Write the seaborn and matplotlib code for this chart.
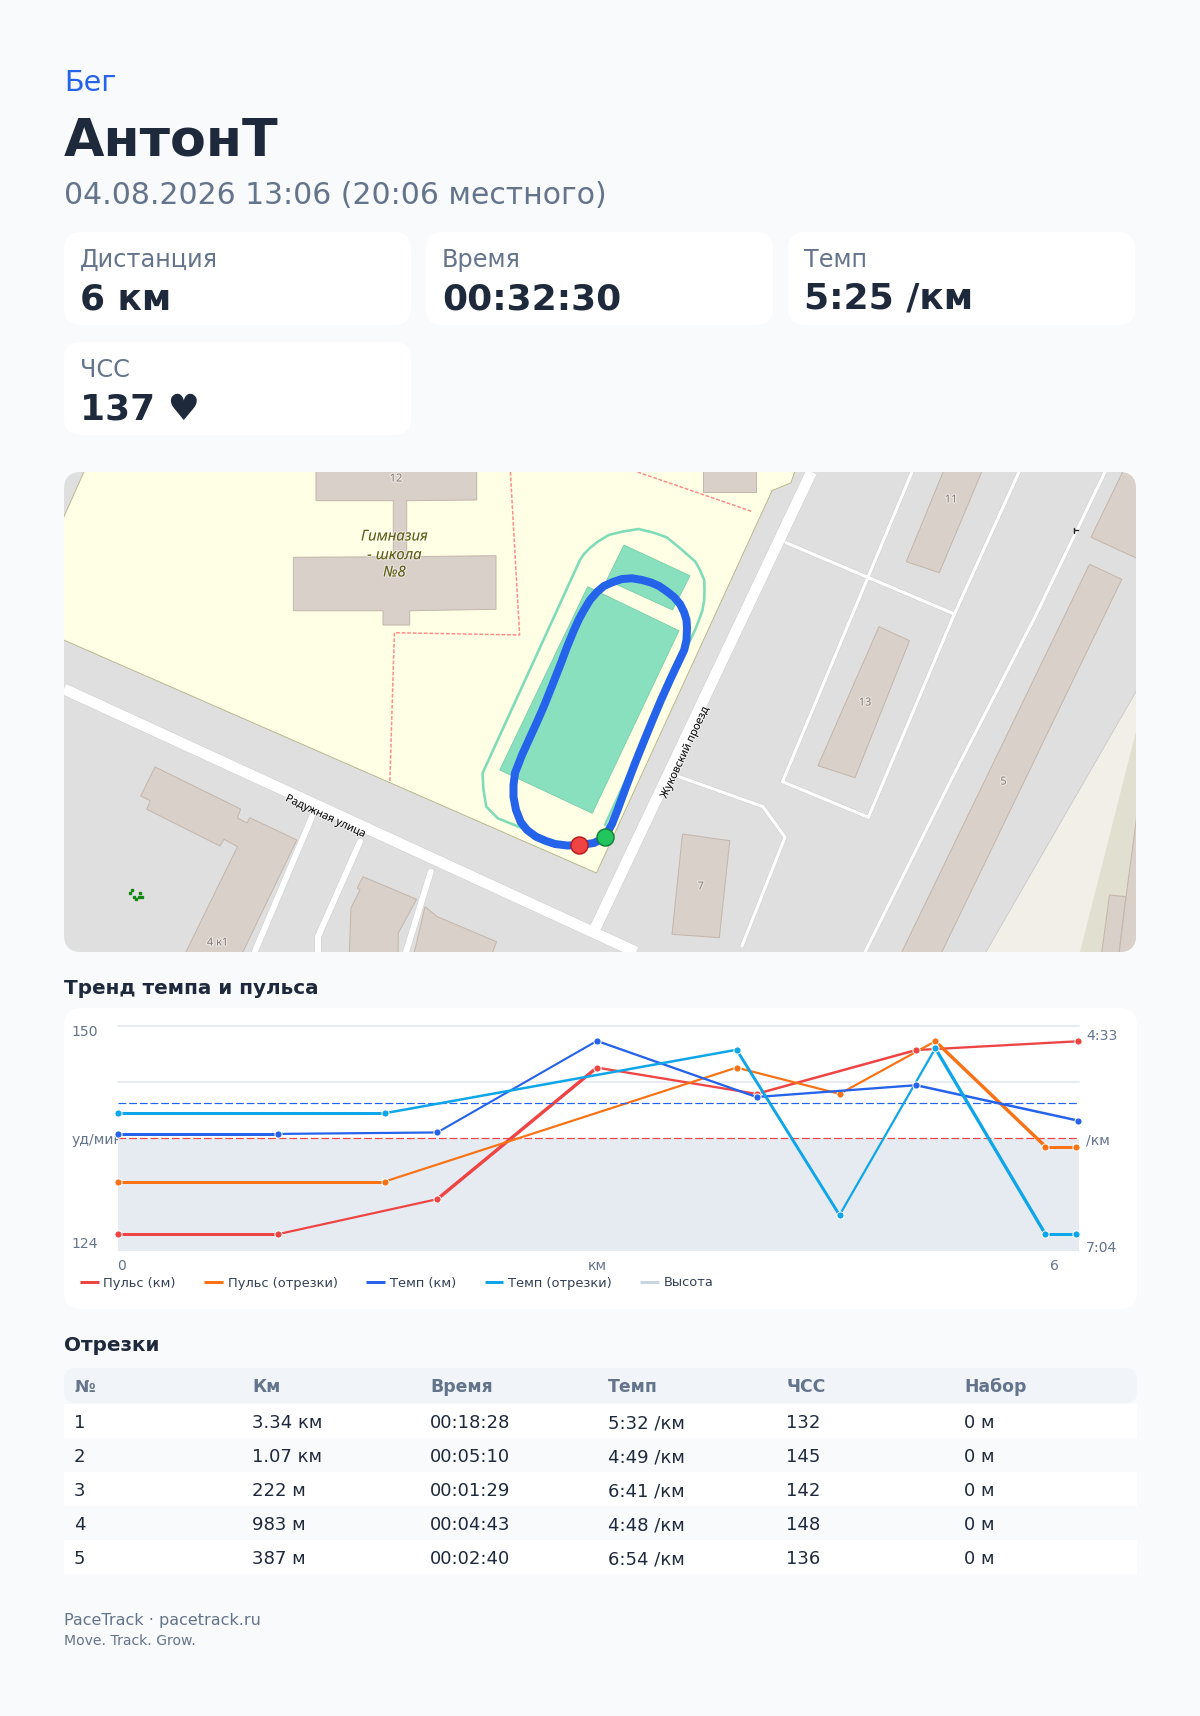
"""Карточка пробежки PaceTrack: шапка, плитки, карта, тренд темпа и пульса, отрезки."""
import matplotlib
matplotlib.use('Agg')
import matplotlib.pyplot as plt
import matplotlib.patheffects as pe
from matplotlib.patches import FancyBboxPatch, Polygon
import seaborn as sns

W, H = 1200, 1716
BG = '#f8fafc'
INK = '#1e293b'
MUTED = '#64748b'
BLUE = '#2563eb'
RED = '#ef4444'
ORANGE = '#f97316'
CYAN = '#0ea5e9'
ELEV = '#cbd5e1'

# --- данные графика ---
KM_DIST = [0, 1, 2, 3, 4, 5, 6.015]
KM_PULSE = [126, 126, 130, 145, 142, 147, 148]
KM_PACE = [346, 346, 345, 283, 321, 313, 337]       # сек/км
SPLIT_DIST = [0, 1.67, 3.875, 4.52, 5.12, 5.81, 6.0]
SPLIT_PULSE = [132, 132, 145, 142, 148, 136, 136]
SPLIT_PACE = [332, 332, 289, 401, 288, 414, 414]
ELEV_DIST = [0, 6.02]
ELEV_M = [0, 0]
AVG_PULSE = 137
AVG_PACE = 325

# толщина каждого участка линии, px
KM_PULSE_LW = [3, 2.2, 3.4, 2.3, 2.5, 2.3]
KM_PACE_LW = [3, 2.2, 2.1, 2.3, 2.3, 2.5]
SPLIT_PULSE_LW = [3, 2.2, 2.2, 2.2, 3.4, 3]
SPLIT_PACE_LW = [3, 2.5, 2.9, 2.2, 3.3, 3]

# --- таблица и плитки ---
TABLE_HEAD = ['№', 'Км', 'Время', 'Темп', 'ЧСС', 'Набор']
TABLE_NUM = ['1', '2', '3', '4', '5']
TABLE_KM = ['3.34 км', '1.07 км', '222 м', '983 м', '387 м']
TABLE_TIME = ['00:18:28', '00:05:10', '00:01:29', '00:04:43', '00:02:40']
TABLE_PACE = ['5:32 /км', '4:49 /км', '6:41 /км', '4:48 /км', '6:54 /км']
TABLE_HR = ['132', '145', '142', '148', '136']
TABLE_GAIN = ['0 м', '0 м', '0 м', '0 м', '0 м']
TILE_LABELS = ['Дистанция', 'Время', 'Темп', 'ЧСС']
TILE_VALUES = ['6 км', '00:32:30', '5:25 /км', '137 ♥']

# --- карта, координаты в пикселях картинки; края заходят за рамку, чтобы не было видно контура ---
SCHOOL = [(87, 465), (50, 548), (50, 634), (596.5, 873), (772, 490.7), (791, 482.7), (797, 465)]
BEIGE = [(1145, 676), (986, 952), (975, 965), (1145, 965)]
DARK_BEIGE = [(1145, 696), (1080, 952), (1077, 965), (1145, 965)]
BUILDINGS = [
    [(316, 465), (476.7, 465), (476.7, 500), (406.7, 500.7), (406.7, 556.7), (496, 555.7),
     (496, 609.3), (409.7, 610.7), (409.7, 625), (383, 625), (383, 610.7), (293.4, 610.7),
     (293.4, 557.3), (393.3, 556.7), (393.3, 500.7), (316, 500.7)],
    [(702.5, 465), (755.8, 465), (755.8, 491.7), (702.5, 491.7)],
    [(155, 767), (240.6, 809), (237.5, 818), (247, 823), (249.8, 817.7), (296.8, 840),
     (238, 962), (181, 962), (237.5, 846.7), (224, 839.3), (220, 846), (146.8, 809.3),
     (150.3, 800.7), (140.7, 796)],
    [(363, 876.7), (416.6, 899.3), (398.3, 933), (398, 962), (349, 962), (351, 908),
     (360, 890), (357.3, 888)],
    [(425, 906.7), (437.3, 916.7), (496.6, 941.7), (489, 962), (412, 962)],
    [(946, 465), (984.6, 465), (939.3, 572.7), (906.3, 561.7)],
    [(879, 626.7), (909.5, 640.7), (855, 777.7), (818, 765.7)],
    [(1089.5, 564.3), (1121.8, 579.3), (937, 962), (897, 962)],
    [(1126, 465), (1145, 465), (1145, 562), (1091, 537.3)],
    [(682.5, 834), (729.8, 840.7), (719.3, 937.7), (672, 934.3)],
    [(1109.5, 895), (1126, 896.7), (1118, 962), (1100.5, 962)],
    [(1145, 755), (1126, 896.7), (1118, 962), (1145, 962)],
]
PITCHES = [
    [(587.7, 586.7), (679, 630.7), (592.3, 813.3), (499.7, 770)],
    [(623.9, 545), (690, 575.7), (672.6, 610), (606.8, 580)],
]
PITCH_OUTLINE = [(605, 825), (689.5, 641.7), (695, 630), (699, 620), (702.5, 610), (704.2, 600), (704.5, 590),
                 (704.2, 580), (700, 570), (695.4, 561.7), (681, 549), (666.7, 537.3), (653, 532.5),
                 (638.6, 529), (623, 531.5), (608.7, 535), (598, 541.5), (589.6, 548.3), (584, 554), (580, 560),
                 (482.5, 773.3), (483.5, 790), (486.3, 806.7), (497.8, 818.3), (522.6, 828.3)]
BOUNDARIES = [
    [(510.4, 472), (519.6, 635), (394.4, 632.7), (389.8, 782.7)],
    [(637.5, 472), (752.6, 511.7)],
]
MAJOR_ROADS = [
    [(64, 689), (636, 952)],
    [(811.5, 472), (593, 933)],
]
LANES = [
    ([(312, 816.7), (254.7, 952)], 6),
    ([(360, 841.7), (318, 936.7), (318, 952)], 6),
    ([(430.8, 871.7), (406, 952)], 6),
    ([(912, 472), (782.5, 781.7), (868.4, 817.3), (954.4, 614), (1019, 472)], 3.2),
    ([(786, 542.7), (954.4, 614)], 3.2),
    ([(1105, 472), (1035, 617), (951, 780), (865, 952)], 3.2),
    ([(679, 776.7), (763, 806.7), (785, 837.3), (742, 946)], 3.2),
]
TRACK = [(604.7, 837.3), (612, 824), (617.5, 810), (626, 787), (635, 763.3), (644, 741), (652.6, 720),
         (661, 700), (670, 680), (678, 663), (684.2, 650), (686.5, 640), (687, 628), (686.5, 620),
         (684, 612), (680, 604), (674, 597), (667, 591.5), (659, 586), (651, 582.5), (642, 580),
         (632, 578.3), (622, 579), (613, 582), (604, 586), (597, 592), (590, 600), (584, 610),
         (579, 619), (574, 630), (567, 647), (560.9, 663.3), (552, 686), (543.7, 706.7), (537, 722),
         (530.3, 736.7), (522, 755), (515, 773), (513.5, 785), (513.5, 797), (516, 810), (520.7, 822),
         (527, 830), (536, 836.7), (546, 841), (555, 844), (567, 845.5), (578.5, 845.3), (594, 843),
         (604.7, 837.3)]
HOUSE_NUMBERS = [('12', 396, 479), ('4 к1', 217.6, 943), ('11', 951, 500), ('13', 865, 703),
                 ('5', 1003.5, 782), ('7', 700.7, 887)]


def pt(px):
    return px * 0.72


def rounded(ax, x0, y0, x1, y1, r, color, **kw):
    patch = FancyBboxPatch((x0 + r, y0 + r), x1 - x0 - 2 * r, y1 - y0 - 2 * r,
                           boxstyle=f'round,pad={r},rounding_size={r}',
                           fc=color, ec='none', **kw)
    ax.add_patch(patch)
    return patch


def label(ax, x, y, s, size, color=INK, weight='normal', **kw):
    return ax.text(x, y, s, fontsize=pt(size), color=color, fontweight=weight, va='baseline', **kw)


sns.set_theme(style='white')
plt.rcParams['font.family'] = ['DejaVu Sans']

fig = plt.figure(figsize=(W / 100, H / 100), dpi=100, facecolor=BG)
page = fig.add_axes([0, 0, 1, 1])
page.set_xlim(0, W)
page.set_ylim(H, 0)
page.axis('off')

# шапка
label(page, 64, 91, 'Бег', 28.6, BLUE)
label(page, 64, 156, 'АнтонТ', 52.3, INK, 'bold')
label(page, 64, 204, '04.08.2026 13:06 (20:06 местного)', 29.9, MUTED)

# плитки
tile_boxes = [(64, 232, 411, 325), (426, 232, 773, 325), (788, 232, 1135, 325), (64, 342, 411, 435)]
for (x0, y0, x1, y1), name, value in zip(tile_boxes, TILE_LABELS, TILE_VALUES):
    rounded(page, x0, y0, x1, y1, 17, 'white')
    label(page, x0 + 16, y0 + 35, name, 24, MUTED)
    label(page, x0 + 16, y0 + 77, value, 36, INK, 'bold')

# карта
clip = rounded(page, 64, 472, 1136, 952, 17, '#dfdfdf')


def map_poly(pts, fc, ec='none', lw=0.0):
    p = Polygon(pts, closed=True, fc=fc, ec=ec, lw=pt(lw))
    page.add_patch(p)
    p.set_clip_path(clip)
    return p


def map_line(pts, color, width, **kw):
    xs, ys = zip(*pts)
    ln, = page.plot(xs, ys, color=color, lw=pt(width), **kw)
    ln.set_clip_path(clip)
    return ln


map_poly(BEIGE, '#f2efe9', '#c8c8c8', 0.8)
map_poly(DARK_BEIGE, '#e0dfd0')
map_poly(SCHOOL, '#ffffe5', '#b5b58a', 0.9)
for b in BOUNDARIES:
    map_line(b, '#ff8a8a', 1.5, ls=(0, (2.5, 1.2)))
for lane, width in LANES:
    map_line(lane, '#cfcfcf', width + 1, solid_joinstyle='miter')
for road in MAJOR_ROADS:
    map_line(road, '#cfcfcf', 12, solid_capstyle='butt')
for lane, width in LANES:
    map_line(lane, 'white', width, solid_joinstyle='miter')
for road in MAJOR_ROADS:
    map_line(road, 'white', 11, solid_capstyle='butt')
for b in BUILDINGS:
    map_poly(b, '#d9d0c9', '#c4b6ab', 1)
for p in PITCHES:
    map_poly(p, '#88e0be', '#74cfa8', 0.8)
map_line(PITCH_OUTLINE, '#7fdcb8', 2.6, solid_joinstyle='round')
map_line(TRACK, BLUE, 8, solid_joinstyle='round')

page.plot([578.5], [845.3], 'o', ms=pt(17), mfc=RED, mec='#b91c1c', mew=pt(1.5))
page.plot([604.7], [837.3], 'o', ms=pt(17), mfc='#22c55e', mec='#15803d', mew=pt(1.5))

halo = [pe.withStroke(linewidth=1.6, foreground='white', alpha=0.5)]
for text, x, y in HOUSE_NUMBERS:
    page.text(x, y, text, fontsize=pt(11), color='#8a7f7a', ha='center', va='center',
              family='Noto Sans', path_effects=halo)
for text, y in [('Гимназия', 537), ('- школа', 555.7), ('№8', 573)]:
    page.text(394.4, y, text, fontsize=pt(15), color='#5c5c12', style='italic', ha='center',
              va='center', family='Noto Sans', path_effects=halo)
page.text(325.5, 816.7, 'Радужная улица', fontsize=pt(11), color='#111111', rotation=-25,
          rotation_mode='anchor', ha='center', va='center', family='Noto Sans', path_effects=halo)
page.text(685, 753, 'Жуковский проезд', fontsize=pt(11), color='#111111', rotation=64.8,
          rotation_mode='anchor', ha='center', va='center', family='Noto Sans', path_effects=halo)
page.plot([132.3, 140, 136, 130, 134, 139, 142], [890, 892.7, 899.3, 893, 897, 897, 897],
          's', ms=2, color='#118811')
page.plot([1073.7, 1073.7], [528, 533], color='#222222', lw=pt(1.4))
page.plot([1073.7, 1078], [530, 530], color='#222222', lw=pt(1.4))

# тренд
label(page, 64, 994, 'Тренд темпа и пульса', 20, INK, 'bold')
rounded(page, 64, 1008, 1137, 1309, 17, 'white')

x0, x1, y0, y1 = 118, 1079, 1026, 1251
ax = fig.add_axes([x0 / W, 1 - y1 / H, (x1 - x0) / W, (y1 - y0) / H], facecolor='none')
ax.fill_between(ELEV_DIST, ELEV_M, -1, color='#e6ebf2', lw=0, zorder=1)
ax.plot([], [], color=ELEV, lw=pt(3), label='Высота')
ax.set_xlim(0, 6.02)
ax.set_ylim(-1, 1)
ax.set_yticks([0.5, 1.0])
ax.set_xticks([])
ax.grid(axis='y', color='#e2e8f0', lw=pt(1.6), zorder=0)
for gl in ax.get_ygridlines():
    gl.set_clip_on(False)

ax_pulse = ax.twinx()
ax_pace = ax.twinx()
ax_pulse.set_ylim(124.09, 149.74)
ax_pace.set_ylim(425.3, 272.9)
for a in (ax, ax_pulse, ax_pace):
    a.patch.set_alpha(0)
    a.set_yticklabels([])
    a.set_xlabel('')
    a.set_ylabel('')
    a.tick_params(length=0)
    sns.despine(ax=a, left=True, right=True, top=True, bottom=True)

ax_pulse.axhline(AVG_PULSE, color=RED, lw=pt(1.2), dashes=(6.5, 2.4))
ax_pace.axhline(AVG_PACE, color=BLUE, lw=pt(1.2), dashes=(6.5, 2.4))


def draw_series(a, xs, ys, widths, color, name):
    for i, w in enumerate(widths):
        sns.lineplot(x=xs[i:i + 2], y=ys[i:i + 2], ax=a, color=color, lw=pt(w), sort=False,
                     label=name if i == 0 else None, solid_capstyle='round', legend=False, errorbar=None)
    sns.scatterplot(x=xs, y=ys, ax=a, color=color, s=pt(7.2) ** 2, edgecolor='white',
                    linewidth=pt(1), clip_on=False, zorder=5, legend=False)


draw_series(ax_pulse, KM_DIST, KM_PULSE, KM_PULSE_LW, RED, 'Пульс (км)')
draw_series(ax_pulse, SPLIT_DIST, SPLIT_PULSE, SPLIT_PULSE_LW, ORANGE, 'Пульс (отрезки)')
draw_series(ax_pace, KM_DIST, KM_PACE, KM_PACE_LW, BLUE, 'Темп (км)')
draw_series(ax_pace, SPLIT_DIST, SPLIT_PACE, SPLIT_PACE_LW, CYAN, 'Темп (отрезки)')
for a in (ax_pulse, ax_pace):
    a.set_xlabel('')
    a.set_ylabel('')
    a.set_yticks([])
    a.set_xlim(0, 6.02)

# подписи осей
for text, x, y in [('150', 71.5, 1032), ('124', 71.5, 1244), ('уд/мин', 71.5, 1140),
                   ('4:33', 1086.3, 1036), ('7:04', 1086.3, 1248), ('/км', 1086.3, 1140)]:
    page.text(x, y, text, fontsize=pt(14), color=MUTED, va='center', ha='left', zorder=6)
for text, x in [('0', 122), ('км', 597), ('6', 1054.5)]:
    page.text(x, 1266, text, fontsize=pt(14), color=MUTED, va='center', ha='center')

handles, labels = [], []
for a in (ax_pulse, ax_pace, ax):
    h, l = a.get_legend_handles_labels()
    handles += h
    labels += l
leg = fig.legend(handles, labels, loc='upper left', bbox_to_anchor=(73.3 / W, 1 - 1270 / H), ncol=5,
                 frameon=False, fontsize=pt(13), handlelength=1.45, handletextpad=0.35,
                 columnspacing=2.2, borderaxespad=0, borderpad=0.5, labelcolor='#334155')
for line in leg.get_lines():
    line.set_linewidth(pt(3))
    line.set_solid_capstyle('butt')

# отрезки
label(page, 64, 1351, 'Отрезки', 20, INK, 'bold')
rounded(page, 64, 1368, 1137, 1403, 11, '#f1f5f9')
col_x = [74, 252.3, 430.3, 608.3, 786.3, 964.3]
for x, head in zip(col_x, TABLE_HEAD):
    label(page, x, 1392, head, 17.2, MUTED, 'bold')
for i, cells in enumerate(zip(TABLE_NUM, TABLE_KM, TABLE_TIME, TABLE_PACE, TABLE_HR, TABLE_GAIN)):
    top = 1403.5 + 34 * i
    page.fill_between([64, 1137], top, top + 34, color='white' if i % 2 == 0 else BG, lw=0)
    for x, cell in zip(col_x, cells):
        label(page, x, 1428.3 + 34 * i, cell, 18, INK)

# подвал
label(page, 64, 1625, 'PaceTrack · pacetrack.ru', 16, MUTED)
label(page, 64, 1645, 'Move. Track. Grow.', 14, MUTED)

fig.savefig('out.png', dpi=100, facecolor=BG)
plt.close(fig)
